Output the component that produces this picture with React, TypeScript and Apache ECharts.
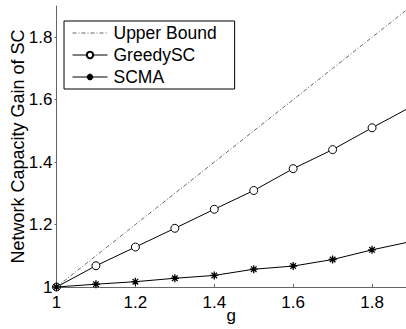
import React, { useEffect, useRef } from "react";
import * as echarts from "echarts";

const gValues = [1, 1.1, 1.2, 1.3, 1.4, 1.5, 1.6, 1.7, 1.8, 1.9];
const upperBound = [1, 1.1, 1.2, 1.3, 1.4, 1.5, 1.6, 1.7, 1.8, 1.9];
const greedySC = [1.0, 1.068, 1.128, 1.188, 1.249, 1.309, 1.379, 1.44, 1.51, 1.578];
const scma = [1.0, 1.009, 1.017, 1.028, 1.037, 1.057, 1.067, 1.088, 1.119, 1.146];
const xTicks = [1, 1.2, 1.4, 1.6, 1.8];
const yTicks = [1, 1.2, 1.4, 1.6, 1.8];
const seriesNames = ["Upper Bound", "GreedySC", "SCMA"];

const FONT = "Liberation Sans, Arial, Helvetica, sans-serif";
const STAR = "path://M0,-5L0,5M-5,0L5,0M-3.5,-3.5L3.5,3.5M-3.5,3.5L3.5,-3.5";

export default function App() {
  const ref = useRef<HTMLDivElement>(null);
  useEffect(() => {
    document.body.style.margin = "0";
    const chart = echarts.init(ref.current!, null, { renderer: "svg" });
    const pair = (ys: number[]) => gValues.map((x, i) => [x, ys[i]]);
    chart.setOption({
      animation: false,
      backgroundColor: "#fff",
      textStyle: { fontFamily: FONT },
      grid: { left: 56.5, top: 6, right: 0, bottom: 42, containLabel: false, outerBoundsMode: "none" },
      legend: {
        orient: "vertical",
        left: 64,
        top: 21,
        padding: [3, 18, 3, 8],
        itemGap: 4,
        itemWidth: 35,
        itemHeight: 8,
        backgroundColor: "#fff",
        borderColor: "#000",
        borderWidth: 1,
        borderRadius: 0,
        data: [
          { name: seriesNames[0], itemStyle: { opacity: 0 }, lineStyle: { width: 1 } },
          { name: seriesNames[1], lineStyle: { width: 1 } },
          { name: seriesNames[2], lineStyle: { width: 1 } },
        ],
        textStyle: { fontSize: 17.5, color: "#000", fontFamily: FONT, padding: [0, 0, 0, 1] },
      },
      xAxis: {
        type: "value",
        min: 1,
        max: 1.886,
        interval: 0.2,
        name: "g",
        nameLocation: "middle",
        nameGap: 20,
        nameMoveOverlap: false,
        nameTextStyle: { fontSize: 17, color: "#000", fontFamily: FONT },
        axisLine: { show: true, onZero: false, lineStyle: { color: "#666", width: 1 } },
        axisTick: { show: true, inside: true, length: 3, customValues: xTicks, lineStyle: { color: "#666" } },
        axisLabel: { customValues: xTicks, fontSize: 17, color: "#000", margin: 7, fontFamily: FONT },
        splitLine: { show: false },
      },
      yAxis: {
        type: "value",
        min: 1,
        max: 1.9,
        interval: 0.2,
        name: "Network Capacity Gain of SC",
        nameLocation: "middle",
        nameGap: 30,
        nameMoveOverlap: false,
        nameTextStyle: { fontSize: 18, color: "#000", fontFamily: FONT },
        axisLine: { show: true, onZero: false, lineStyle: { color: "#666", width: 1 } },
        axisTick: { show: true, inside: false, length: 2, customValues: yTicks, lineStyle: { color: "#666" } },
        axisLabel: { customValues: yTicks, fontSize: 17, color: "#000", margin: 4, fontFamily: FONT },
        splitLine: { show: false },
      },
      series: [
        {
          name: seriesNames[0],
          type: "line",
          data: pair(upperBound),
          symbol: "none",
          showSymbol: false,
          lineStyle: { color: "#666", width: 1, type: [4, 2, 1, 2] },
          itemStyle: { color: "#666" },
        },
        {
          name: seriesNames[1],
          type: "line",
          data: pair(greedySC),
          symbol: "circle",
          symbolSize: 8,
          lineStyle: { color: "#000", width: 1 },
          itemStyle: { color: "#fff", borderColor: "#000", borderWidth: 1 },
        },
        {
          name: seriesNames[2],
          type: "line",
          data: pair(scma),
          symbol: STAR,
          symbolSize: 8,
          lineStyle: { color: "#000", width: 1 },
          itemStyle: { color: "none", borderColor: "#000", borderWidth: 1.3 },
        },
      ],
    });
    return () => chart.dispose();
  }, []);
  return <div ref={ref} style={{ width: 406, height: 329 }} />;
}
